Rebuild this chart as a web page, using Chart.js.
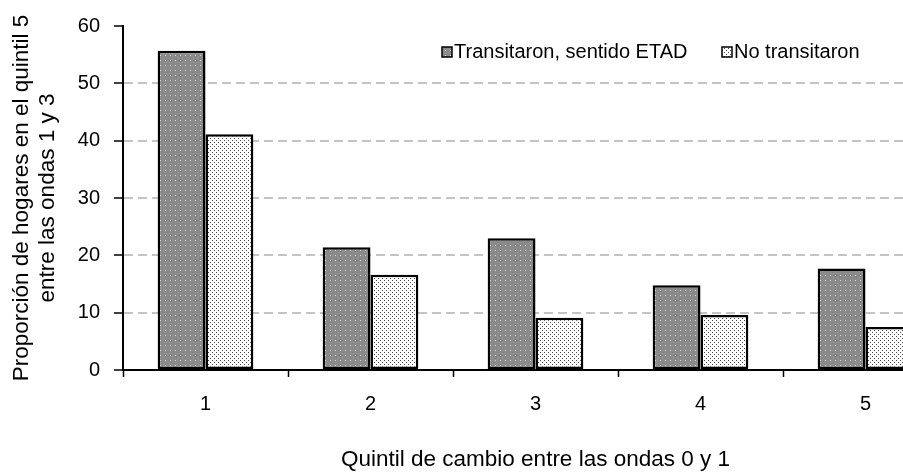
<!DOCTYPE html>
<html lang="es">

<head>
  <meta charset="UTF-8" />
  <title>Quintil de cambio</title>
  <script src="https://cdn.jsdelivr.net/npm/chart.js@4"></script>
  <style>
    html, body { margin: 0; padding: 0; background: #fff; overflow: hidden; }
    #caja { width: 960px; height: 472px; }
  </style>
</head>

<body>

  <div id="caja">
    <canvas id="grafico"></canvas>
  </div>

<script>
  // datos
  const quintiles = ['1', '2', '3', '4', '5'];
  const transitaron = [55.7, 21.4, 23.0, 14.8, 17.7];
  const noTransitaron = [41.1, 16.6, 9.1, 9.6, 7.5];
  const nombres = ['Transitaron, sentido ETAD', 'No transitaron'];
  const tituloY = ['Proporción de hogares en el quintil 5', 'entre las ondas 1 y 3'];
  const tituloX = 'Quintil de cambio entre las ondas 0 y 1';

  const fuente = '"Liberation Sans", Arial, sans-serif';

  // tramas de puntos como en Excel
  function trama(fondo, punto, paso, alterno) {
    const c = document.createElement('canvas');
    c.width = paso * 2; c.height = paso * 2;
    const g = c.getContext('2d');
    g.fillStyle = fondo;
    g.fillRect(0, 0, c.width, c.height);
    g.fillStyle = punto;
    g.fillRect(0, 0, 1, 1);
    g.fillRect(paso, paso, 1, 1);
    if (!alterno) {
      g.fillRect(paso, 0, 1, 1);
      g.fillRect(0, paso, 1, 1);
    }
    return g.createPattern(c, 'repeat');
  }
  const tramaGris = trama('#8a8a8a', '#d6d6d6', 5, false);
  const tramaBlanca = trama('#ffffff', '#4a4a4a', 2, true);

  // leyenda dentro del área del gráfico
  const leyenda = {
    id: 'leyenda',
    afterDraw(chart) {
      const ctx = chart.ctx;
      const items = [
        { x: 442, texto: nombres[0], relleno: tramaGris },
        { x: 722, texto: nombres[1], relleno: tramaBlanca }
      ];
      ctx.save();
      ctx.font = '20px ' + fuente;
      ctx.textBaseline = 'middle';
      items.forEach(it => {
        ctx.fillStyle = it.relleno;
        ctx.fillRect(it.x, 47, 10, 10);
        ctx.strokeStyle = '#000';
        ctx.lineWidth = 1.5;
        ctx.strokeRect(it.x, 47, 10, 10);
        ctx.fillStyle = '#000';
        ctx.fillText(it.texto, it.x + 12, 52);
      });
      ctx.restore();
    }
  };

  const ctx = document.getElementById('grafico').getContext('2d');
  const grafico = new Chart(ctx, {
    type: 'bar',
    data: {
      labels: quintiles,
      datasets: [
        {
          label: nombres[0],
          data: transitaron,
          backgroundColor: tramaGris,
          borderColor: '#000',
          borderWidth: 2.5,
          borderSkipped: false
        },
        {
          label: nombres[1],
          data: noTransitaron,
          backgroundColor: tramaBlanca,
          borderColor: '#000',
          borderWidth: 2.5,
          borderSkipped: false
        }
      ]
    },
    options: {
      responsive: true,
      maintainAspectRatio: false,
      animation: false,
      layout: { padding: { top: 20, right: 12, left: 0, bottom: 0 } },
      plugins: {
        legend: { display: false },
        tooltip: { enabled: false }
      },
      datasets: {
        bar: { categoryPercentage: 0.58, barPercentage: 1.0 }
      },
      scales: {
        x: {
          afterFit: s => { s.height = 102; },
          grid: {
            offset: true,
            drawOnChartArea: false,
            tickLength: 7,
            tickColor: '#000',
            tickWidth: 1.5
          },
          border: { color: '#000', width: 2 },
          ticks: { color: '#000', padding: 15, font: { family: fuente, size: 20 } },
          title: {
            display: true,
            text: tituloX,
            color: '#000',
            padding: 0,
            font: { family: fuente, size: 22.5, lineHeight: 1.05 }
          }
        },
        y: {
          min: 0,
          max: 60,
          afterFit: s => { s.width = 123; },
          grid: {
            color: c => (c.tick.value > 0 && c.tick.value < 60) ? '#c4c4c4' : 'rgba(0,0,0,0)',
            lineWidth: 2,
            tickLength: 9,
            tickColor: '#000',
            tickWidth: 1.5
          },
          border: { color: '#000', width: 2, dash: [9, 5] },
          ticks: { stepSize: 10, color: '#000', padding: 14, font: { family: fuente, size: 20 } },
          title: {
            display: true,
            text: tituloY,
            color: '#000',
            padding: { top: 9, bottom: 0 },
            font: { family: fuente, size: 22.5, lineHeight: 1.16 }
          }
        }
      }
    },
    plugins: [leyenda]
  });
</script>

</body>

</html>
